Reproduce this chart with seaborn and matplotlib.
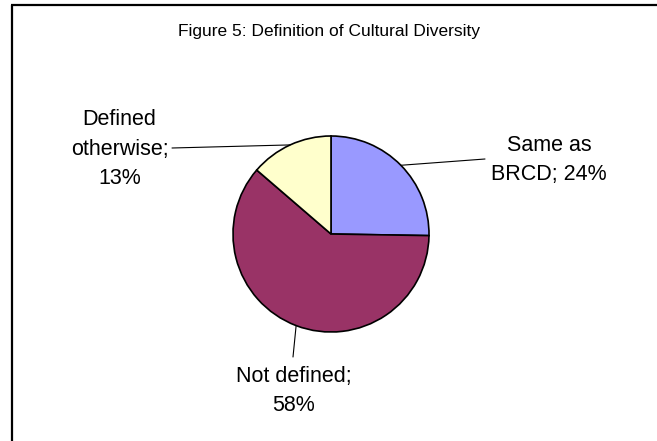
import numpy as np
import matplotlib
matplotlib.use("Agg")
import matplotlib.pyplot as plt
import seaborn as sns

# ---- data ----
categories = ["Same as\nBRCD; 24%", "Not defined;\n58%", "Defined\notherwise;\n13%"]
values = [24, 58, 13]
colors = ["#9999FF", "#993366", "#FFFFCC"]
title = "Figure 5: Definition of Cultural Diversity"

sns.set_theme(style="white")
plt.rcParams["font.family"] = ["Liberation Sans", "DejaVu Sans"]

W, H = 657, 441
fig = plt.figure(figsize=(W / 100, H / 100), dpi=100)
ax = fig.add_axes([0, 0, 1, 1])

def Y(yp):
    return H - yp

cx, cy, r = 331, Y(234), 98
wedges, _ = ax.pie(values, colors=colors, startangle=90, counterclock=False,
                   center=(cx, cy), radius=r,
                   wedgeprops=dict(edgecolor="black", linewidth=1.2))
ax.set_xlim(0, W)
ax.set_ylim(0, H)
ax.set_aspect("equal")
ax.axis("off")

# label positions (pixel coords from top) and leader ends
label_pos = [(549, 160), (294, 391), (119.5, 149)]
leader_end = [(485, 159), (293, 357), (172, 148)]

for w, lab, (tx, ty), (lx, ly) in zip(wedges, categories, label_pos, leader_end):
    mid = np.deg2rad((w.theta1 + w.theta2) / 2)
    ex, ey = cx + r * np.cos(mid), cy + r * np.sin(mid)
    ax.plot([ex, lx], [ey, Y(ly)], color="black", lw=0.8)
    ax.text(tx, Y(ty), lab, ha="center", va="center", multialignment="center",
            fontsize=15.5, color="black", linespacing=1.55)

ax.text(329, Y(31.5), title, ha="center", va="center", fontsize=12.5, color="black")

# frame (top and left edges)
ax.plot([11, W], [Y(5), Y(5)], color="black", lw=1.6, solid_capstyle="butt")
ax.plot([12, 12], [Y(5), 0], color="black", lw=1.6, solid_capstyle="butt")

fig.savefig("out.png", dpi=100)
